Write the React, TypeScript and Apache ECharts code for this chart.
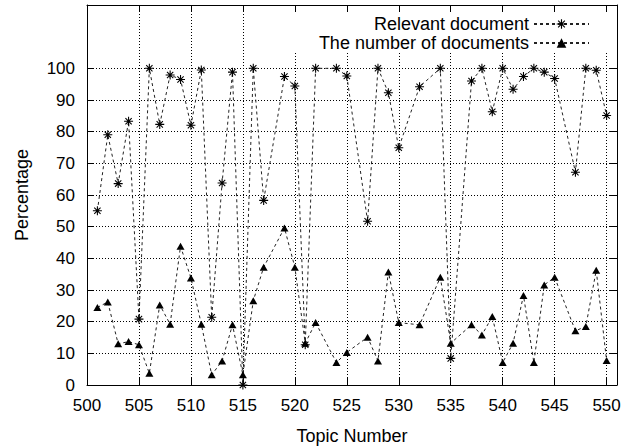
import React, { useEffect, useRef } from "react";
import * as echarts from "echarts";

const topics = [501, 502, 503, 504, 505, 506, 507, 508, 509, 510, 511, 512, 513, 514, 515, 516, 517, 519, 520, 521, 522, 524, 525, 527, 528, 529, 530, 532, 534, 535, 537, 538, 539, 540, 541, 542, 543, 544, 545, 547, 548, 549, 550];
const relevant = [55, 79, 63.6, 83.3, 20.8, 100, 82.3, 97.9, 96.5, 82, 99.5, 21.4, 63.8, 98.8, 0, 100, 58.3, 97.4, 94.4, 12.7, 100, 100, 97.6, 51.7, 100, 92.3, 74.9, 94.2, 100, 8.4, 96, 100, 86.3, 100, 93.4, 97.4, 100, 98.8, 96.8, 67.2, 100, 99.4, 85.1];
const numDocs = [24.5, 26.2, 13, 13.7, 12.7, 3.7, 25.3, 19.2, 43.8, 33.8, 19.2, 3.2, 7.6, 19, 3.2, 26.6, 37.2, 49.6, 37.2, 13.2, 19.7, 7.1, 10.3, 15.1, 7.6, 35.7, 19.7, 19, 34, 13.2, 19, 15.8, 21.6, 7.1, 13.2, 28.3, 7.1, 31.6, 34, 17.1, 18.5, 36.2, 7.7];
const xTicks = [500, 505, 510, 515, 520, 525, 530, 535, 540, 545, 550];
const yTicks = [0, 10, 20, 30, 40, 50, 60, 70, 80, 90, 100];
const yGrid = [10, 20, 30, 40, 50, 60, 70, 80, 90, 100];
const seriesNames = ["Relevant document", "The number of documents"];

const FONT = "'Liberation Sans', Arial, Helvetica, sans-serif";
const ASTERISK =
  "path://M0 4.4L10 4.4L10 5.6L0 5.6Z M4.4 0L5.6 0L5.6 10L4.4 10Z M1.92 1.08L8.92 8.08L8.08 8.92L1.08 1.92Z M8.08 1.08L8.92 1.92L1.92 8.92L1.08 8.08Z";

export default function App() {
  const ref = useRef<HTMLDivElement>(null);
  useEffect(() => {
    if (!ref.current) return;
    const chart = echarts.init(ref.current, null, { renderer: "svg" });
    const dash = [3, 3];
    const axisCommon = {
      type: "value" as const,
      axisLine: { show: true, onZero: false, lineStyle: { color: "#000", width: 1 } },
      splitLine: { show: false },
    };
    const legendCommon = {
      orient: "vertical" as const,
      right: 18,
      align: "right" as const,
      itemWidth: 55,
      itemHeight: 12,
      backgroundColor: "#fff",
      textStyle: { fontSize: 18, color: "#000", fontFamily: FONT },
      selectedMode: false,
    };
    chart.setOption({
      animation: false,
      backgroundColor: "#fff",
      grid: { left: 87, right: 17, top: 5, bottom: 62, containLabel: false, outerBoundsMode: "none" },
      legend: [
        { ...legendCommon, data: [seriesNames[0]], top: 13, padding: [2, 26, 0, 117] },
        { ...legendCommon, data: [seriesNames[1]], top: 33, padding: [1, 26, 1, 62] },
      ],
      xAxis: [
        {
          ...axisCommon,
          position: "bottom",
          min: 500,
          max: 551,
          interval: 5,
          axisTick: { show: true, inside: true, length: 7, customValues: xTicks, lineStyle: { color: "#000" } },
          axisLabel: {
            customValues: xTicks,
            fontSize: 17,
            color: "#000",
            fontFamily: FONT,
            margin: 12,
            formatter: (v: number) => (v % 5 === 0 ? String(v) : ""),
          },
          splitLine: { show: true, lineStyle: { type: [1, 2], color: "#000", width: 1 } },
          name: "Topic Number",
          nameLocation: "middle",
          nameGap: 42,
          nameTextStyle: { fontSize: 18, color: "#000", fontFamily: FONT },
        },
        {
          ...axisCommon,
          position: "top",
          min: 500,
          max: 551,
          interval: 5,
          axisTick: { show: true, inside: true, length: 7, customValues: xTicks, lineStyle: { color: "#000" } },
          axisLabel: { show: false },
        },
      ],
      yAxis: [
        {
          ...axisCommon,
          position: "left",
          min: 0,
          max: 120,
          interval: 10,
          axisTick: { show: true, inside: true, length: 7, customValues: yTicks, lineStyle: { color: "#000" } },
          axisLabel: {
            customValues: yTicks,
            fontSize: 17,
            color: "#000",
            fontFamily: FONT,
            margin: 12,
            formatter: (v: number) => (v > 100 ? "" : String(v)),
          },
          name: "Percentage",
          nameLocation: "middle",
          nameGap: 56,
          nameRotate: 90,
          nameTextStyle: { fontSize: 18, color: "#000", fontFamily: FONT },
        },
        {
          ...axisCommon,
          position: "right",
          min: 0,
          max: 120,
          interval: 10,
          axisTick: { show: true, inside: true, length: 7, customValues: yTicks, lineStyle: { color: "#000" } },
          axisLabel: { show: false },
        },
      ],
      series: [
        {
          name: seriesNames[0],
          type: "line",
          xAxisIndex: 0,
          yAxisIndex: 0,
          data: topics.map((t, i) => [t, relevant[i]]),
          symbol: ASTERISK,
          symbolSize: 9,
          itemStyle: { color: "#000" },
          lineStyle: { color: "#222", width: 1, type: dash },
          clip: false,
          z: 3,
          markLine: {
            silent: true,
            symbol: "none",
            label: { show: false },
            lineStyle: { type: [1, 2], color: "#000", width: 1 },
            data: yGrid.map((v) => ({ yAxis: v })),
            z: 1,
          },
        },
        {
          name: seriesNames[1],
          type: "line",
          xAxisIndex: 0,
          yAxisIndex: 0,
          data: topics.map((t, i) => [t, numDocs[i]]),
          symbol: "triangle",
          symbolSize: [8, 7],
          itemStyle: { color: "#000" },
          lineStyle: { color: "#222", width: 1, type: dash },
          clip: false,
          z: 3,
        },
      ],
    });
    return () => chart.dispose();
  }, []);
  return <div ref={ref} style={{ width: 634, height: 447, position: "absolute", left: 0, top: 0 }} />;
}
